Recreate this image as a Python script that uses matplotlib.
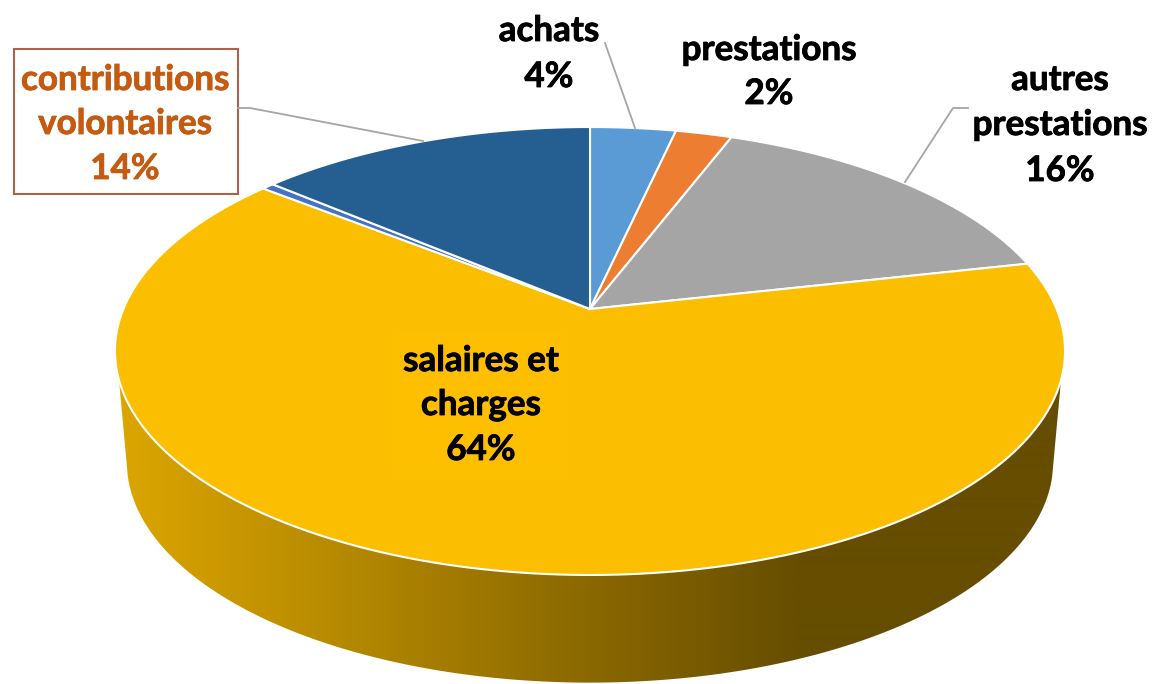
import numpy as np
import matplotlib
matplotlib.use('Agg')
import matplotlib.pyplot as plt
import matplotlib.patheffects as pe
from matplotlib.patches import Polygon, Rectangle
from matplotlib.colors import LinearSegmentedColormap

# shares, clockwise from 12 o'clock
values = [3.5, 2.3, 15.7, 64.2, 0.5, 13.8]
colors = ['#5b9bd5', '#ed7d31', '#a5a5a5', '#fbbe00', '#4472c4', '#255e91']
label_lines = [['achats'], ['prestations'], ['autres', 'prestations'],
               ['salaires et', 'charges'], None, ['contributions', 'volontaires']]
label_x = [549, 769, 1060, 481, None, 125]
label_y = [[31, 77], [50, 94], [80, 125, 171], [361, 405, 450], None, [80, 124, 169]]
label_colors = ['black', 'black', 'black', 'black', None, '#c55a11']

plt.rcParams['font.family'] = ['Lato', 'DejaVu Sans']

# perspective of the pie top, in pixels
cx, cy = 590, 309
A, B, k = 466.6, 216.1, 0.1875

def top_xy(t):
  X, Y = np.sin(t), np.cos(t)
  return cx + A * X / (1 + k * Y), cy - B * Y / (1 + k * Y)

def bottom_xy(t):
  x, y = top_xy(t)
  return cx + (x - cx) * 0.975, 462 + (y - 351) * 0.985

fig = plt.figure(figsize=(11.52, 6.84), dpi=100)
ax = fig.add_axes([0, 0, 1, 1])
ax.set_xlim(0, 1152)
ax.set_ylim(684, 0)
ax.axis('off')

# side of the pie, gradient clipped to the front band
t_all = np.linspace(np.pi / 2, 3 * np.pi / 2, 400)
x_top, y_top = top_xy(t_all)
x_bot, y_bot = bottom_xy(t_all)
keep_top = y_top >= 380
keep_bot = y_bot >= 476
side_pts = np.vstack([
  np.column_stack([x_top[keep_top], y_top[keep_top]]),
  np.column_stack([x_bot[keep_bot], y_bot[keep_bot]])[::-1],
])
side = Polygon(side_pts, closed=True, facecolor='none', edgecolor='none')
ax.add_patch(side)
cmap = LinearSegmentedColormap.from_list('side', ['#dca600', '#664d00'])
grad = np.clip((np.arange(100, 1100) - 118) / (800 - 118), 0, 1).reshape(1, -1)
img = ax.imshow(grad, cmap=cmap, vmin=0, vmax=1, aspect='auto',
                extent=[100, 1100, 684, 360], zorder=1, interpolation='bilinear')
img.set_clip_path(side)
ax.set_xlim(0, 1152)
ax.set_ylim(684, 0)

# pie top
edges = np.cumsum([0] + values) / sum(values) * 2 * np.pi
for i in range(len(values)):
  t = np.linspace(edges[i], edges[i + 1], 200)
  x, y = top_xy(t)
  pts = np.column_stack([np.r_[cx, x], np.r_[cy, y]])
  ax.add_patch(Polygon(pts, closed=True, facecolor=colors[i], edgecolor='white',
                       linewidth=1.5, zorder=2, joinstyle='round'))

# box behind the salaires label
ax.add_patch(Rectangle((393, 330), 174, 143, facecolor='#fdbf00', edgecolor='none', zorder=3))

# box of the contributions label
ax.add_patch(Rectangle((14, 49), 224, 145, facecolor='white', edgecolor='#a9644a',
                       linewidth=1.5, zorder=3))

# leader lines
ax.plot([238, 250, 423], [108, 108, 141], color='#a5a5a5', lw=1.3, zorder=3)
ax.plot([605, 635], [43, 128], color='#a5a5a5', lw=1.3, zorder=3)
ax.plot([968, 953, 905], [108, 108, 182], color='#a5a5a5', lw=1.3, zorder=3)

# labels
for i in range(len(values)):
  if label_lines[i] is None:
    continue
  lines = label_lines[i] + [f'{values[i]:.0f}%']
  for line, y in zip(lines, label_y[i]):
    ax.text(label_x[i], y, line, ha='center', va='center', fontsize=25.2,
            fontweight='bold', color=label_colors[i], zorder=4,
            path_effects=[pe.withStroke(linewidth=0.6, foreground=label_colors[i])])

fig.savefig('out.png', dpi=100)
